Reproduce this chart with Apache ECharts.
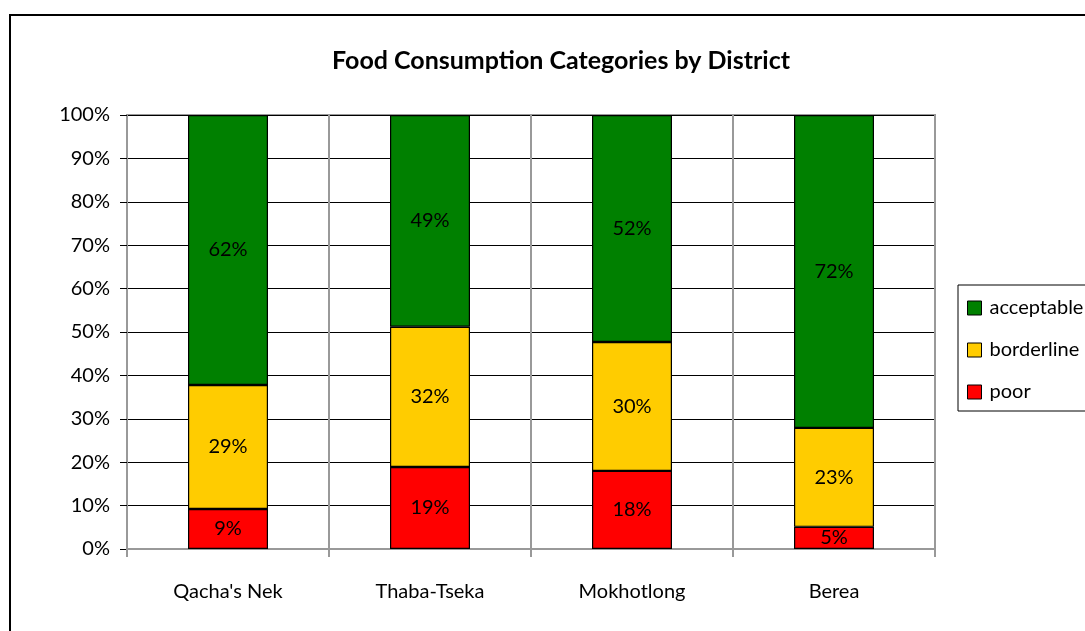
<!DOCTYPE html>
<html>
<head>
<meta charset="utf-8">
<script src="https://cdn.jsdelivr.net/npm/echarts@6/dist/echarts.min.js"></script>
<style>
html,body{margin:0;padding:0;background:#fff;}
#c{width:1085px;height:631px;}
</style>
</head>
<body>
<div id="c"></div>
<script>
const districts = ["Qacha's Nek", "Thaba-Tseka", "Mokhotlong", "Berea"];
const poor = [9.2, 18.9, 18.0, 5.1];
const borderline = [28.6, 32.3, 29.7, 22.8];
const acceptable = [62.2, 48.8, 52.3, 72.1];
const yTicks = [0, 10, 20, 30, 40, 50, 60, 70, 80, 90, 100];

const FONT = 'Lato, "Open Sans", sans-serif';
const chart = echarts.init(document.getElementById('c'));

function seriesOf(name, data, color) {
  return {
    name: name,
    type: 'bar',
    stack: 'total',
    barWidth: 80,
    data: data,
    itemStyle: { color: color, borderColor: '#000', borderWidth: 1.2 },
    label: {
      show: true,
      position: 'inside',
      color: '#000',
      fontFamily: FONT,
      fontSize: 20,
      formatter: p => Math.round(p.value) + '%'
    }
  };
}

chart.setOption({
  animation: false,
  backgroundColor: '#fff',
  title: {
    text: 'Food Consumption Categories by District',
    left: 556,
    textAlign: 'center',
    top: 43,
    textStyle: { fontFamily: FONT, fontWeight: 'bold', fontSize: 25, color: '#000' }
  },
  graphic: [
    { type: 'rect', shape: { x: 10, y: 15, width: 1200, height: 800 }, style: { fill: 'none', stroke: '#000', lineWidth: 2 }, z: -1 },
    { type: 'rect', shape: { x: 958, y: 285, width: 200, height: 126 }, style: { fill: '#fff', stroke: '#000', lineWidth: 1 }, z: -1 }
  ],
  legend: {
    orient: 'vertical',
    left: 967,
    top: 297,
    padding: 0,
    itemWidth: 14,
    itemHeight: 14,
    itemGap: 20,
    icon: 'rect',
    data: ['acceptable', 'borderline', 'poor'],
    itemStyle: { borderColor: '#000', borderWidth: 1 },
    textStyle: { fontFamily: FONT, fontSize: 20, color: '#000', lineHeight: 22, padding: [0, 0, 0, 3] }
  },
  grid: { left: 127, right: 150, top: 115, bottom: 82, show: true, borderColor: '#999', borderWidth: 2, backgroundColor: 'transparent' },
  xAxis: {
    type: 'category',
    data: districts,
    axisLine: { lineStyle: { color: '#999', width: 2 } },
    axisTick: { show: true, length: 8, lineStyle: { color: '#999', width: 2 } },
    splitLine: { show: true, lineStyle: { color: '#999', width: 2 } },
    axisLabel: { fontFamily: FONT, fontSize: 20, color: '#000', margin: 33 }
  },
  yAxis: {
    type: 'value',
    min: 0,
    max: 100,
    interval: 10,
    axisLine: { show: true, lineStyle: { color: '#999', width: 2 } },
    axisTick: { show: true, length: 7, lineStyle: { color: '#000' } },
    splitLine: { show: true, lineStyle: { color: '#000', width: 1 } },
    axisLabel: {
      fontFamily: FONT, fontSize: 20, color: '#000', margin: 17,
      formatter: v => yTicks.includes(v) ? v + '%' : ''
    }
  },
  series: [
    seriesOf('poor', poor, '#FF0000'),
    seriesOf('borderline', borderline, '#FFCC00'),
    seriesOf('acceptable', acceptable, '#008000')
  ]
});
</script>
</body>
</html>
